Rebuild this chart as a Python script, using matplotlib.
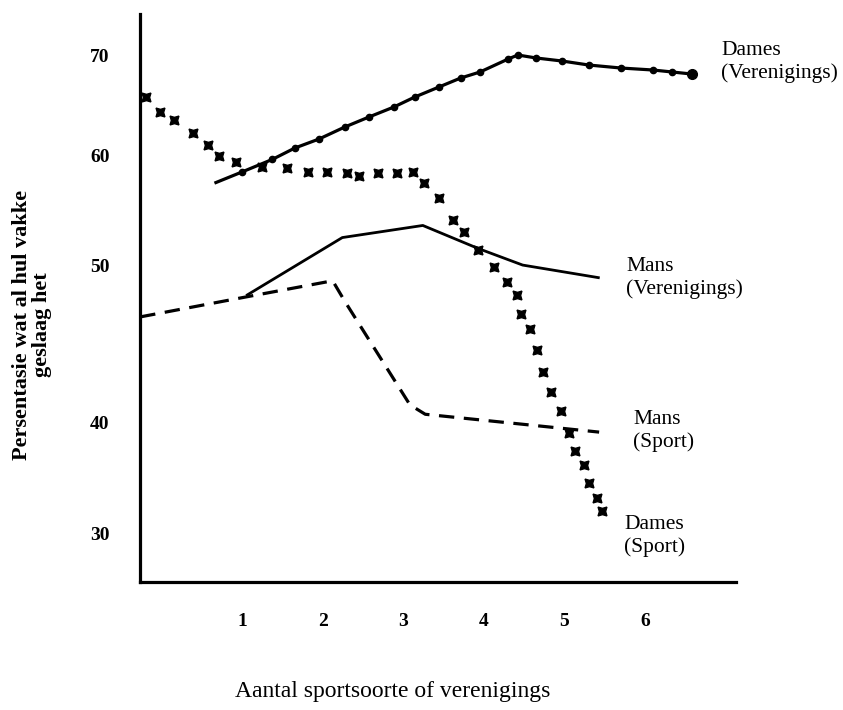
import numpy as np
import matplotlib
matplotlib.use("Agg")
import matplotlib.pyplot as plt
from matplotlib.scale import FuncScale

plt.rcParams['font.family'] = ['Liberation Serif', 'DejaVu Serif']

# Dames (Verenigings) - solid line with dots
dames_ver_x = [0.67, 0.99, 1.37, 1.65, 1.95, 2.27, 2.57, 2.88, 3.14, 3.44, 3.71,
               3.95, 4.30, 4.42, 4.65, 4.97, 5.30, 5.70, 6.10, 6.34, 6.58]
dames_ver_y = [57.5, 58.45, 59.6, 60.7, 61.6, 62.8, 63.8, 64.8, 65.8, 66.8, 67.7,
               68.3, 69.6, 70.0, 69.7, 69.4, 69.0, 68.7, 68.5, 68.3, 68.1]

# Dames (Sport) - crosses only
dames_sport_x = [-0.20, -0.02, 0.15, 0.39, 0.57, 0.71, 0.92, 1.24, 1.55, 1.81, 2.05,
                 2.30, 2.45, 2.68, 2.92, 3.12, 3.25, 3.44, 3.61, 3.75, 3.93, 4.12,
                 4.29, 4.41, 4.46, 4.57, 4.66, 4.73, 4.83, 4.96, 5.06, 5.13, 5.24,
                 5.30, 5.40, 5.47]
dames_sport_y = [65.8, 64.3, 63.5, 62.2, 61.0, 59.9, 59.4, 58.9, 58.8, 58.5, 58.45,
                 58.4, 58.1, 58.4, 58.4, 58.45, 57.5, 56.1, 54.1, 53.0, 51.4, 49.9,
                 48.9, 48.1, 46.9, 45.9, 44.6, 43.2, 41.9, 40.7, 39.0, 37.4, 36.1,
                 34.5, 33.2, 32.0]

# Mans (Verenigings) - solid line
mans_ver_x = [1.06, 2.24, 3.24, 3.93, 4.48, 5.42]
mans_ver_y = [48.1, 52.5, 53.6, 51.5, 50.0, 49.2]

# Mans (Sport) - dashed line
mans_sport_x = [-0.27, 0.97, 2.12, 2.27, 3.08, 3.27, 5.43]
mans_sport_y = [46.7, 47.9, 49.0, 47.7, 41.1, 40.5, 39.1]

x_ticks = [1, 2, 3, 4, 5, 6]
y_ticks = [30, 40, 50, 60, 70]

# the original axis is drawn with uneven spacing between the tick values
scale_vals = [20, 30, 40, 50, 60, 70, 80]
scale_pos = [-644, -533, -422, -265, -155, -55, 45]


def fwd(v):
    return np.interp(v, scale_vals, scale_pos)


def inv(p):
    return np.interp(p, scale_pos, scale_vals)


fig = plt.figure(figsize=(8.43, 7.10), dpi=100)
ax = fig.add_axes([140 / 843, 1 - 582 / 710, 596 / 843, 568 / 710])
ax.set_yscale(FuncScale(ax.yaxis, (fwd, inv)))

ax.plot(dames_ver_x, dames_ver_y, color='black', lw=2.3, marker='o', ms=4.5,
        markevery=slice(1, None), clip_on=False)
ax.plot(dames_ver_x[-1:], dames_ver_y[-1:], 'o', color='black', ms=7, clip_on=False)
ax.plot(dames_sport_x, dames_sport_y, linestyle='none', color='black',
        marker=(4, 1, 45), ms=9, clip_on=False)
ax.plot(mans_ver_x, mans_ver_y, color='black', lw=2.0, clip_on=False)
ax.plot(mans_sport_x, mans_sport_y, color='black', lw=2.3, dashes=(4.8, 3.0),
        clip_on=False)

ax.set_xlim(-0.273, 7.13)
ax.set_ylim(25.6, 74.1)
ax.set_xticks(x_ticks)
ax.set_yticks(y_ticks)
ax.yaxis.set_minor_locator(matplotlib.ticker.NullLocator())
ax.tick_params(length=0, labelsize=14)
ax.tick_params(axis='y', pad=22)
ax.tick_params(axis='x', pad=22)
for lab in ax.get_xticklabels() + ax.get_yticklabels():
    lab.set_fontweight('bold')

for side in ['top', 'right']:
    ax.spines[side].set_visible(False)
for side in ['left', 'bottom']:
    ax.spines[side].set_linewidth(2.3)

lab_kw = dict(fontsize=15.5, ha='left', va='center', linespacing=1.2)
fig.text(721 / 843, 1 - 62 / 710, 'Dames\n(Verenigings)', **lab_kw)
fig.text(626 / 843, 1 - 278 / 710, 'Mans\n(Verenigings)', **lab_kw)
fig.text(633 / 843, 1 - 431 / 710, 'Mans\n(Sport)', **lab_kw)
fig.text(624 / 843, 1 - 536 / 710, 'Dames\n(Sport)', **lab_kw)

fig.text(393 / 843, 1 - 692 / 710, 'Aantal sportsoorte of verenigings',
         fontsize=17, ha='center', va='center')
fig.text(32 / 843, 1 - 325 / 710, 'Persentasie wat al hul vakke\ngeslaag het',
         fontsize=16, fontweight='bold', ha='center', va='center', rotation=90,
         multialignment='center', linespacing=1.05)

fig.savefig('out.png', dpi=100)
